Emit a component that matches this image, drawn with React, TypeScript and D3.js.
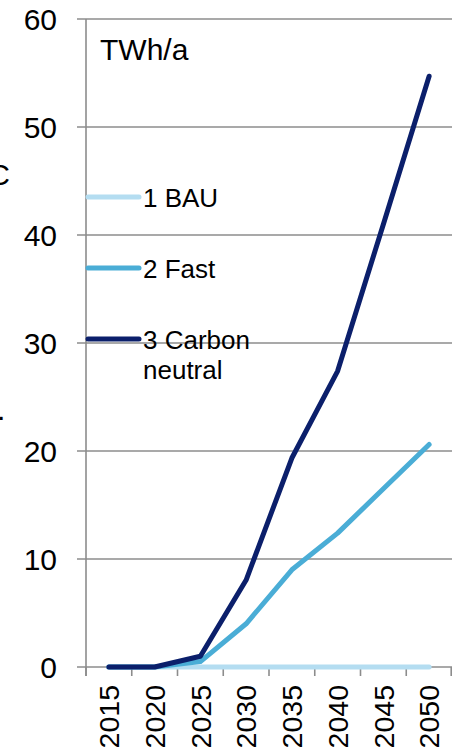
import React from "react";
import * as d3 from "d3";

const years = ["2015", "2020", "2025", "2030", "2035", "2040", "2045", "2050"];
const bau = [0, 0, 0, 0, 0, 0, 0, 0];
const fast = [0, 0, 0.5, 4.0, 9.0, 12.4, 16.5, 20.6];
const carbon = [0, 0, 1.0, 8.05, 19.35, 27.4, 41.0, 54.7];
const yTicks = [0, 10, 20, 30, 40, 50, 60];
const seriesNames = ["1 BAU", "2 Fast", "3 Carbon neutral"];
const seriesColors = ["#B4DDF1", "#4AADD6", "#0B1F6B"];

const W = 452;
const H = 749;
const FONT = "Arial, 'Liberation Sans', sans-serif";

export default function App() {
  const left = 86;
  const right = 452;
  const top = 19;
  const bottom = 667;
  const x = d3.scaleBand<string>().domain(years).range([left, right]).padding(0);
  const y = d3.scaleLinear().domain([0, 60]).range([bottom, top]);
  const cx = (i: number) => (x(years[i]) as number) + x.bandwidth() / 2;
  const line = d3
    .line<number>()
    .x((_, i) => cx(i))
    .y((d) => y(d));
  const series = [bau, fast, carbon];
  const grid = "#8C8C8C";
  const legendY = [197, 268, 339];

  return (
    <svg
      width={W}
      height={H}
      style={{ position: "absolute", left: 0, top: 0, background: "#fff" }}
      fontFamily={FONT}
    >
      {/* clipped axis title fragments, as in the reference */}
      <text x={10} y={185} fontSize={30} textAnchor="end" fill="#000">
        C
      </text>
      <text x={-3} y={420} fontSize={30} fill="#000">
        .
      </text>

      {/* gridlines */}
      {yTicks.map((t) => (
        <line key={t} x1={77} x2={right} y1={y(t)} y2={y(t)} stroke={grid} strokeWidth={1.6} />
      ))}
      {/* y axis */}
      <line x1={left} x2={left} y1={top} y2={bottom + 9} stroke={grid} strokeWidth={1.6} />
      {/* x ticks */}
      {years.map((yr) => (
        <line
          key={yr}
          x1={x(yr) as number}
          x2={x(yr) as number}
          y1={bottom}
          y2={bottom + 9}
          stroke={grid}
          strokeWidth={1.6}
        />
      ))}
      <line x1={right - 0.8} x2={right - 0.8} y1={bottom} y2={bottom + 9} stroke={grid} strokeWidth={1.6} />

      {/* y labels */}
      {yTicks.map((t) => (
        <text key={t} x={57} y={y(t)} dy="0.36em" fontSize={30} textAnchor="end" fill="#000">
          {t}
        </text>
      ))}
      {/* x labels */}
      {years.map((yr, i) => (
        <text
          key={yr}
          transform={`translate(${cx(i)},${685}) rotate(-90)`}
          dy="0.36em"
          fontSize={28.5}
          textAnchor="end"
          fill="#000"
        >
          {yr}
        </text>
      ))}

      {/* unit */}
      <text x={100} y={60} fontSize={30} fill="#000">
        TWh/a
      </text>

      {/* series */}
      {series.map((s, k) => (
        <path
          key={k}
          d={line(s) as string}
          fill="none"
          stroke={seriesColors[k]}
          strokeWidth={5}
          strokeLinecap="round"
          strokeLinejoin="round"
        />
      ))}

      {/* legend */}
      {seriesNames.map((n, k) => (
        <g key={n}>
          <line
            x1={88}
            x2={139}
            y1={legendY[k]}
            y2={legendY[k]}
            stroke={seriesColors[k]}
            strokeWidth={5}
            strokeLinecap="round"
          />
          {k < 2 ? (
            <text x={143} y={legendY[k] + 9.5} fontSize={26} fill="#000">
              {n}
            </text>
          ) : (
            <text x={143} y={legendY[k] + 9.5} fontSize={26} fill="#000">
              <tspan x={143}>3 Carbon</tspan>
              <tspan x={143} dy={30}>
                neutral
              </tspan>
            </text>
          )}
        </g>
      ))}
    </svg>
  );
}
